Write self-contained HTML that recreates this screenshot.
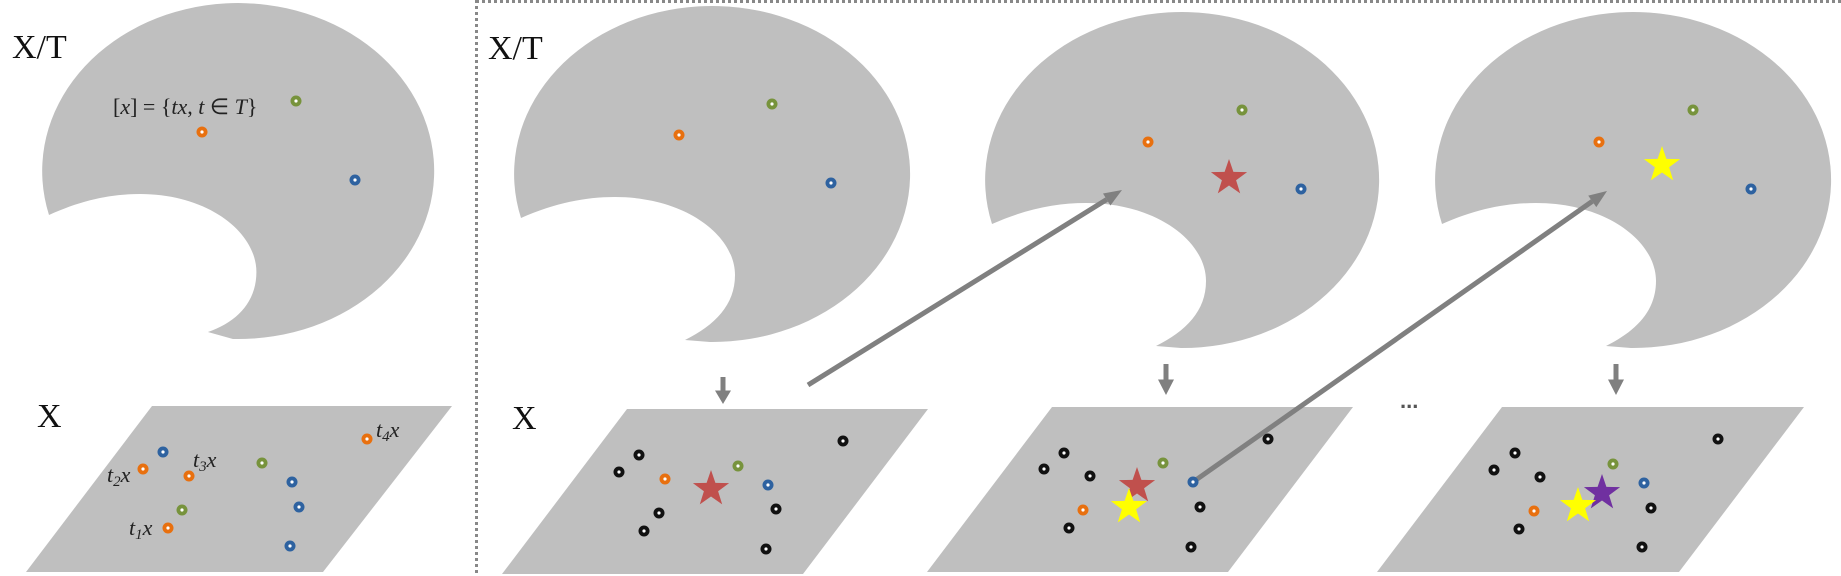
<!DOCTYPE html>
<html><head><meta charset="utf-8"><style>
html,body{margin:0;padding:0;background:#fff;width:1841px;height:576px;overflow:hidden}
svg{display:block}
.lbl{font-family:"Liberation Serif",serif;font-size:34px;fill:#111}
.mth{font-family:"Liberation Serif",serif;font-size:22px;fill:#222}
</style></head><body>
<svg id="fig" width="1841" height="576" viewBox="0 0 1841 576" xmlns="http://www.w3.org/2000/svg">
<line x1="476.5" y1="0" x2="476.5" y2="576" stroke="#888" stroke-width="3" stroke-dasharray="3,3"/>
<line x1="476" y1="1.5" x2="1841" y2="1.5" stroke="#888" stroke-width="3" stroke-dasharray="3,3"/>
<g id="shapes"></g>
<g id="marks"></g>
<text class="lbl" x="12" y="58">X/T</text>
<text class="lbl" x="37" y="427">X</text>
<text class="lbl" x="488" y="59">X/T</text>
<text class="lbl" x="512" y="429">X</text>
<text class="mth" x="113" y="114">[<tspan font-style="italic">x</tspan>] = {<tspan font-style="italic">tx</tspan>, <tspan font-style="italic">t</tspan> ∈ <tspan font-style="italic">T</tspan>}</text>
<text class="mth" x="129" y="535" font-style="italic">t<tspan font-size="15" dy="4">1</tspan><tspan dy="-4">x</tspan></text>
<text class="mth" x="107" y="482" font-style="italic">t<tspan font-size="15" dy="4">2</tspan><tspan dy="-4">x</tspan></text>
<text class="mth" x="193" y="467" font-style="italic">t<tspan font-size="15" dy="4">3</tspan><tspan dy="-4">x</tspan></text>
<text class="mth" x="376" y="437" font-style="italic">t<tspan font-size="15" dy="4">4</tspan><tspan dy="-4">x</tspan></text>
<text x="1400" y="408" font-family="Liberation Sans,sans-serif" font-size="22" font-weight="bold" fill="#555">...</text>
</svg>
<script>
// blobs: centre x, centre y, radius x, radius y, notch scale
const blobCx=[239,713,1183,1634];
const blobCy=[172,175,181,181];
const blobRx=[196,198,197,198];
const blobRy=[168,168,168,168];
const blobNotch=[0.97,1,1,1];
// parallelograms
const parTopY=[406,409,407,407];
const parBotY=[572,574,572,572];
const parTL=[152,627,1052,1502];
const parTR=[452,928,1353,1804];
const parBL=[26,502,927,1377];
const parBR=[323,803,1228,1679];
// points
const ptX=[296,202,355, 163,143,189,262,292,299,182,168,290,367,
 772,679,831, 639,619,665,738,768,843,776,659,644,766,
 1242,1301,1148, 1064,1044,1090,1163,1083,1069,1191,1193,1200,1268,
 1693,1599,1751, 1718,1515,1494,1540,1613,1644,1534,1651,1519,1642];
const ptY=[101,132,180, 452,469,476,463,482,507,510,528,546,439,
 104,135,183, 455,472,479,466,485,441,509,513,531,549,
 110,189,142, 453,469,476,463,510,528,547,482,507,439,
 110,142,189, 439,453,470,477,464,483,511,508,529,547];
const ptC=["g","o","b", "b","o","o","g","b","b","g","o","b","o",
 "g","o","b", "k","k","o","g","b","k","k","k","k","k",
 "g","b","o", "k","k","k","g","o","k","k","b","k","k",
 "g","o","b", "k","k","k","k","g","b","o","k","k","k"];
// stars
const starX=[711,1229,1137,1129,1662,1602,1578];
const starY=[489,178,486,507,165,493,506];
const starC=["r","r","r","y","y","p","y"];
// arrows
const downX=[723,1166,1616];
const downY0=[377,364,364];
const downY1=[404,395,395];
const diagX0=[808,1193], diagY0=[385,482], diagX1=[1122,1607], diagY1=[190,191];

const COL={g:"#77933c",o:"#e8700f",b:"#2e62a0",k:"#111111",r:"#c0504d",y:"#ffff00",p:"#7030a0"};
const NS="http://www.w3.org/2000/svg";
const shapes=document.getElementById("shapes"), marks=document.getElementById("marks");
function mk(t,a,p){const e=document.createElementNS(NS,t);for(const k in a)e.setAttribute(k,a[k]);p.appendChild(e);return e;}

for(let i=0;i<blobCx.length;i++){
 const cx=blobCx[i],cy=blobCy[i],rx=blobRx[i],ry=blobRy[i],s=blobNotch[i],L=cx-rx;
 const ax=L+6, ay=cy+43;
 const tx=L+170*s, ty=cy+Math.min(165*s,ry-2);
 const d=`M${ax},${ay} C${L+40*s},${cy+28} ${L+70*s},${cy+22} ${L+100*s},${cy+22} C${L+170*s},${cy+22} ${L+220*s},${cy+60} ${L+220*s},${cy+100} C${L+220*s},${cy+130} ${L+200*s},${cy+150} ${tx},${ty} L${tx+25},${cy+ry-1} A${rx},${ry} 0 1 0 ${ax},${ay} Z`;
 const e=mk("path",{d:d,fill:"#bfbfbf"},shapes);
 
 
}
for(let i=0;i<parTL.length;i++){
 const e=mk("polygon",{points:`${parTL[i]},${parTopY[i]} ${parTR[i]},${parTopY[i]} ${parBR[i]},${parBotY[i]} ${parBL[i]},${parBotY[i]}`,fill:"#bfbfbf"},shapes);
 
 
}
for(let i=0;i<downX.length;i++){
 const x=downX[i],y0=downY0[i],y1=downY1[i],h=y1-y0;
 const e=mk("path",{d:`M${x-2.5},${y0} L${x+2.5},${y0} L${x+2.5},${y0+h*0.5} L${x+8},${y0+h*0.5} L${x},${y1} L${x-8},${y0+h*0.5} L${x-2.5},${y0+h*0.5} Z`,fill:"#808080"},marks);
 
 
}
for(let i=0;i<diagX0.length;i++){
 const x0=diagX0[i],y0=diagY0[i],x1=diagX1[i],y1=diagY1[i];
 const dx=x1-x0,dy=y1-y0,len=Math.hypot(dx,dy),ux=dx/len,uy=dy/len,hl=18,hw=7;
 const bx=x1-ux*hl,by=y1-uy*hl;
 const ln=mk("line",{x1:x0,y1:y0,x2:bx,y2:by,stroke:"#808080","stroke-width":5},marks);
 
 
 const hd=mk("polygon",{points:`${x1},${y1} ${bx-uy*hw},${by+ux*hw} ${bx+uy*hw},${by-ux*hw}`,fill:"#808080"},marks);
 
 
}
for(let i=0;i<ptX.length;i++){
 const g=mk("g",{},marks);
 
 
 mk("circle",{cx:ptX[i],cy:ptY[i],r:5.5,fill:COL[ptC[i]]},g);
 mk("circle",{cx:ptX[i],cy:ptY[i],r:1.6,fill:"#fff"},g);
}
for(let i=0;i<starX.length;i++){
 let p=[];
 for(let k=0;k<10;k++){const r=k%2?7.5:19,a=-Math.PI/2+k*Math.PI/5;p.push((starX[i]+r*Math.cos(a)).toFixed(1)+","+(starY[i]+r*Math.sin(a)).toFixed(1));}
 const e=mk("polygon",{points:p.join(" "),fill:COL[starC[i]]},marks);
 
 
}
</script>
</body></html>
